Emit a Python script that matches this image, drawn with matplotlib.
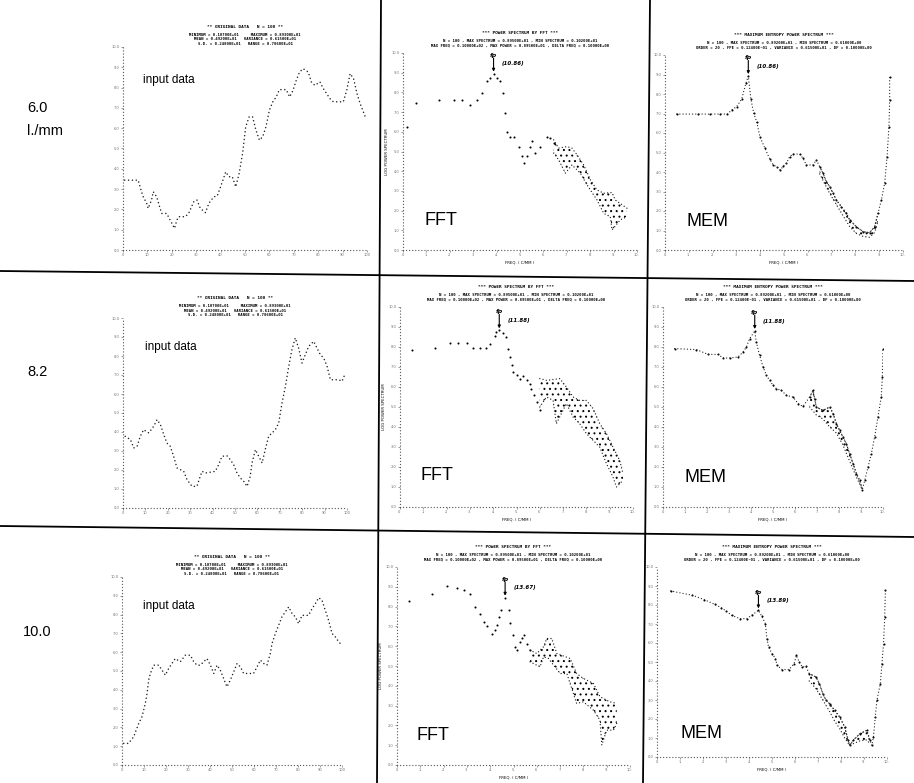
import matplotlib
matplotlib.use("Agg")
import matplotlib.pyplot as plt
from matplotlib.lines import Line2D

W, H = 914, 783

# ---------------- input data (sample no., amplitude) ----------------
in1_x = [0.7, 6.2, 7.6, 8.3, 9.7, 10.3, 11.7, 12.4, 13.8, 15.2, 15.9, 17.9, 19.3, 21.1, 22.1, 22.8,
         25.5, 26.9, 29.0, 30.3, 31.7, 33.8, 35.2, 37.2, 38.6, 40.0, 42.1, 43.4, 44.8, 46.2, 47.6,
         49.0, 50.3, 51.7, 53.1, 54.5, 55.9, 57.2, 58.6, 60.0, 61.4, 62.8, 64.1, 66.9, 68.3, 69.7,
         71.0, 72.4, 73.8, 75.9, 77.2, 78.6, 80.7, 82.1, 84.8, 86.2, 90.3, 91.7, 93.1, 94.5, 95.9,
         97.2, 99.3]
in1_y = [3.44, 3.44, 2.87, 2.62, 2.30, 2.05, 2.46, 2.87, 2.62, 2.05, 1.80, 1.80, 1.48, 1.07, 1.48, 1.64,
         1.64, 1.80, 2.38, 2.46, 2.05, 1.84, 2.30, 2.62, 2.66, 3.11, 3.85, 3.61, 3.61, 3.11, 3.77,
         4.75, 6.07, 6.56, 6.56, 5.90, 5.41, 5.57, 6.07, 6.89, 7.30, 7.54, 7.90, 7.90, 7.54, 7.87,
         8.36, 8.77, 8.93, 8.77, 8.28, 8.11, 8.28, 7.95, 7.46, 7.30, 7.30, 7.87, 8.69, 8.44, 7.70,
         7.21, 6.56]

in2_x = [1.0, 3.3, 4.8, 6.3, 7.7, 9.2, 11.5, 13.7, 15.2, 16.7, 18.2, 19.6, 21.1, 22.6, 24.1, 27.1,
         28.6, 30.8, 33.0, 34.5, 35.3, 36.8, 41.2, 42.7, 44.2, 46.4, 47.9, 49.4, 50.9, 52.4, 53.9,
         55.4, 56.8, 57.6, 59.1, 60.6, 62.1, 63.5, 65.0, 68.0, 69.5, 71.0, 72.5, 74.0, 75.4, 76.9,
         78.4, 79.9, 81.4, 82.9, 85.1, 86.6, 88.1, 89.6, 91.1, 92.6, 96.3, 97.8, 99.3]
in2_y = [3.77, 3.60, 3.16, 3.25, 3.77, 4.12, 3.95, 4.30, 4.65, 4.39, 3.86, 3.42, 3.25, 2.72, 2.11, 1.93,
         1.49, 1.14, 1.14, 1.67, 1.93, 1.84, 1.93, 2.28, 2.72, 2.75, 2.54, 2.28, 1.84, 1.58, 1.40,
         1.14, 1.67, 2.37, 3.07, 2.72, 2.37, 3.07, 3.77, 4.12, 4.47, 5.53, 6.40, 7.46, 8.33, 8.95,
         8.42, 7.63, 8.07, 8.51, 8.77, 8.42, 8.07, 7.89, 7.46, 6.75, 6.75, 6.67, 7.11]

in3_x = [0.8, 3.0, 5.3, 7.6, 9.1, 10.6, 11.4, 12.1, 12.9, 14.4, 16.7, 18.2, 19.7, 21.2, 22.7, 24.2,
         26.5, 28.8, 31.1, 32.6, 34.1, 35.6, 37.1, 38.6, 40.2, 41.7, 43.2, 44.7, 46.2, 47.7, 49.2,
         50.8, 52.3, 53.8, 55.3, 59.8, 61.4, 62.9, 64.4, 65.9, 67.4, 68.2, 69.7, 71.2, 72.7, 74.2,
         75.8, 77.3, 78.8, 80.3, 81.8, 84.8, 86.4, 87.9, 89.4, 90.9, 92.4, 93.9, 95.5, 97.0, 98.5,
         100.0]
in3_y = [1.15, 1.15, 1.50, 2.21, 2.57, 3.27, 3.81, 4.51, 4.87, 5.31, 5.31, 5.04, 4.78, 5.13, 5.40, 5.66,
         5.49, 5.84, 5.84, 5.49, 5.31, 5.31, 5.49, 5.66, 5.31, 4.87, 5.31, 5.04, 4.60, 4.16, 4.51,
         4.96, 5.40, 5.22, 4.87, 4.87, 5.22, 5.58, 5.40, 5.31, 5.93, 6.46, 6.99, 7.43, 7.88, 8.14,
         8.41, 8.05, 7.88, 7.52, 7.96, 7.96, 8.32, 8.58, 8.90, 8.76, 8.23, 7.70, 6.99, 6.81, 6.55,
         6.37]

# ---------------- FFT spectra (frequency, log power) ----------------
fft1_f = [0.17, 0.57, 1.52, 2.17, 2.52, 2.88, 3.16, 3.38, 3.59, 3.73, 3.87, 4.02, 4.13, 4.27, 4.37,
          4.44, 4.59, 4.73, 4.94, 5.09, 5.16, 5.30, 5.44, 5.51, 5.66, 5.87, 6.15, 6.30, 6.44]
fft1_p = [6.24, 7.46, 7.63, 7.63, 7.63, 7.37, 7.63, 7.97, 8.56, 8.73, 8.95, 8.73, 8.56, 7.97, 6.95,
          5.97, 5.76, 5.76, 5.25, 4.75, 4.41, 4.75, 5.25, 5.51, 4.92, 5.25, 5.76, 5.68, 5.42]
fft1_up_f = [6.44, 6.65, 7.01, 7.22, 7.44, 7.72, 8.01, 8.29, 8.58, 8.93, 9.07, 9.57]
fft1_up_p = [5.59, 5.17, 5.25, 5.17, 4.83, 4.32, 3.56, 3.05, 2.88, 2.92, 2.54, 2.12]
fft1_lo_f = [6.44, 6.65, 6.94, 7.22, 7.58, 7.86, 8.29, 8.58, 8.86, 8.93, 9.29, 9.57]
fft1_lo_p = [4.92, 4.58, 3.90, 4.32, 3.90, 3.31, 2.54, 1.86, 1.69, 1.02, 1.53, 1.69]

fft2_f = [0.50, 1.50, 2.14, 2.50, 2.86, 3.14, 3.43, 3.71, 3.86, 4.07, 4.14, 4.26, 4.43, 4.54, 4.64,
          4.71, 4.79, 4.86, 5.00, 5.14, 5.29, 5.43, 5.57, 5.64, 5.74, 5.86, 6.00]
fft2_p = [7.83, 7.97, 8.20, 8.20, 8.20, 7.97, 7.97, 7.97, 8.17, 8.53, 8.75, 8.83, 8.70, 8.50, 7.92,
          7.50, 7.08, 6.75, 6.58, 6.42, 6.53, 6.37, 6.17, 5.92, 5.58, 5.25, 4.83]
fft2_up_f = [6.00, 6.29, 6.86, 7.14, 7.43, 7.71, 8.00, 8.29, 8.57, 8.86, 9.14, 9.43, 9.57]
fft2_up_p = [6.42, 6.33, 6.42, 6.00, 5.50, 5.33, 5.33, 4.92, 4.17, 3.67, 3.00, 2.33, 1.67]
fft2_lo_f = [6.00, 6.29, 6.57, 6.71, 7.14, 7.43, 7.71, 8.00, 8.29, 8.57, 8.86, 9.14, 9.29, 9.43, 9.57]
fft2_lo_p = [5.00, 5.50, 5.33, 4.17, 5.17, 4.50, 4.17, 3.67, 3.33, 3.00, 2.17, 1.50, 1.00, 1.17, 1.33]

fft3_f = [0.50, 1.50, 2.14, 2.57, 2.86, 3.14, 3.36, 3.57, 3.74, 3.86, 4.07, 4.21, 4.29, 4.36, 4.46,
          4.64, 4.79, 4.86, 4.97, 5.07, 5.14, 5.29, 5.36, 5.46, 5.57, 5.71]
fft3_p = [8.29, 8.66, 9.03, 8.96, 8.82, 8.62, 7.98, 7.61, 7.23, 7.01, 6.64, 6.81, 7.06, 7.45, 7.82,
          8.45, 7.82, 7.18, 6.55, 5.97, 5.80, 6.22, 6.39, 6.55, 6.13, 5.80]
fft3_up_f = [5.71, 6.00, 6.29, 6.43, 6.64, 6.86, 7.43, 7.71, 8.00, 8.43, 8.71, 9.14, 9.43]
fft3_up_p = [5.80, 5.63, 5.97, 6.39, 6.39, 5.63, 5.38, 4.62, 4.37, 4.12, 3.45, 3.19, 3.11]
fft3_lo_f = [5.71, 6.14, 6.29, 6.50, 7.00, 7.29, 7.71, 8.00, 8.43, 8.71, 8.79, 9.00, 9.29, 9.43]
fft3_lo_p = [5.21, 4.96, 5.46, 5.38, 4.62, 4.62, 3.11, 3.19, 2.77, 2.27, 1.01, 1.76, 1.76, 2.10]

# ---------------- MEM spectra (frequency, log power) ----------------
mem1_f = [0.49, 1.40, 1.89, 2.31, 2.62, 2.80, 3.01, 3.22, 3.40, 3.50, 3.61, 3.73, 3.85, 3.99, 4.20,
          4.41, 4.55, 4.69, 4.85, 4.97, 5.10, 5.24, 5.38, 5.66, 5.80, 5.94, 6.22, 6.36, 6.50, 6.64,
          6.78, 6.92, 7.06, 7.20, 7.41, 7.62, 7.76, 8.04, 8.32, 8.60, 8.81, 8.95, 9.09, 9.23, 9.33,
          9.41, 9.44, 9.44]
mem1_p = [6.97, 6.97, 6.97, 6.97, 6.97, 7.18, 7.35, 7.73, 8.55, 8.92, 7.73, 7.01, 6.58, 5.81, 5.21,
          4.65, 4.36, 4.27, 4.10, 4.31, 4.44, 4.79, 4.92, 4.92, 4.70, 4.36, 4.36, 4.62, 4.27, 3.93,
          3.50, 3.25, 2.91, 2.56, 2.22, 1.88, 1.54, 1.20, 0.94, 0.89, 1.20, 1.88, 2.56, 3.42, 4.79,
          6.32, 7.69, 8.89]
mem1_lo_f = [6.50, 6.92, 7.41, 7.76, 8.04, 8.32, 8.60, 8.81, 8.95]
mem1_lo_p = [3.90, 2.90, 1.90, 1.20, 0.85, 0.70, 0.65, 0.90, 1.50]

mem2_f = [0.53, 1.52, 2.05, 2.50, 2.73, 3.03, 3.41, 3.64, 3.79, 3.94, 4.17, 4.24, 4.39, 4.55, 4.70,
          4.85, 5.00, 5.15, 5.38, 5.61, 5.91, 6.14, 6.36, 6.67, 6.82, 6.89, 6.97, 7.27, 7.58, 7.73,
          7.88, 8.03, 8.18, 8.33, 8.48, 8.64, 8.79, 8.94, 9.06, 9.17, 9.32, 9.47, 9.62, 9.77, 9.92,
          9.97, 10.0]
mem2_p = [7.92, 7.87, 7.63, 7.63, 7.45, 7.45, 7.50, 7.75, 8.00, 8.42, 8.80, 8.25, 7.58, 7.00, 6.58,
          6.33, 6.08, 5.92, 5.83, 5.58, 5.50, 5.17, 5.03, 5.50, 5.83, 5.42, 5.00, 4.83, 5.00, 4.67,
          4.17, 3.83, 3.50, 3.17, 2.67, 2.17, 1.67, 1.33, 0.87, 1.33, 2.00, 2.67, 3.50, 4.50, 5.50,
          6.50, 7.90]
mem2_lo_f = [6.67, 6.97, 7.27, 7.58, 7.88, 8.18, 8.48, 8.79, 9.06]
mem2_lo_p = [5.00, 4.60, 4.40, 4.00, 3.70, 3.10, 2.30, 1.50, 0.87]

mem3_f = [0.59, 1.54, 2.06, 2.50, 2.79, 3.01, 3.24, 3.60, 3.90, 4.12, 4.41, 4.56, 4.71, 4.78, 4.85,
          5.00, 5.15, 5.22, 5.44, 5.74, 5.96, 6.06, 6.18, 6.32, 6.47, 6.62, 6.91, 7.06, 7.21, 7.35,
          7.50, 7.72, 7.94, 8.16, 8.31, 8.38, 8.53, 8.82, 9.12, 9.26, 9.34, 9.41, 9.49, 9.56, 9.71,
          9.78, 9.85, 9.90, 9.93]
mem3_p = [8.74, 8.51, 8.28, 8.04, 7.86, 7.68, 7.46, 7.28, 7.28, 7.46, 7.72, 7.40, 7.02, 6.23, 5.79,
          5.44, 5.18, 4.82, 4.60, 4.60, 4.91, 5.35, 5.00, 4.74, 4.77, 4.39, 4.21, 3.86, 3.33, 2.98,
          2.81, 2.46, 2.11, 1.58, 0.88, 0.61, 0.88, 1.23, 1.40, 0.88, 0.61, 1.05, 2.11, 2.98, 3.86,
          4.91, 5.96, 7.37, 8.77]
mem3_lo_f = [6.62, 6.91, 7.21, 7.50, 7.72, 7.94, 8.16, 8.38, 8.53, 8.82, 9.12, 9.26]
mem3_lo_p = [4.00, 3.60, 3.00, 2.40, 1.90, 1.50, 1.00, 0.61, 0.70, 0.85, 0.90, 0.70]

row_labels = ["6.0", "8.2", "10.0"]
peak_labels = [["(10.86)", "(10.86)"], ["(11.88)", "(11.88)"], ["(13.67)", "(13.89)"]]

# panel boxes in pixels: left, top, right, bottom
boxes = [
    [(123, 47, 367, 250), (403, 53, 637, 250), (665, 55, 903, 250)],
    [(123, 318, 347, 508), (400, 307, 633, 507), (663, 307, 883, 507)],
    [(122, 577, 342, 765), (397, 567, 630, 765), (657, 567, 887, 757)],
]

DOTS = (0, (0.01, 2.4))
INK = "0.12"


def fx(x):
    return x / W


def fy(y):
    return 1 - y / H


def add_panel(fig, box, xmax, xstep):
    l, t, r, b = box
    ax = fig.add_axes([fx(l), fy(b), (r - l) / W, (b - t) / H])
    ax.set_xlim(0, xmax)
    ax.set_ylim(0, 10)
    ax.patch.set_alpha(0)
    for s in ("top", "right"):
        ax.spines[s].set_visible(False)
    for s in ("left", "bottom"):
        ax.spines[s].set_linestyle((0, (0.01, 2.2)))
        ax.spines[s].set_capstyle("round")
        ax.spines[s].set_linewidth(1.0)
        ax.spines[s].set_color("0.35")
    ax.set_xticks([i * xstep for i in range(int(xmax / xstep) + 1)])
    ax.set_yticks(range(0, 11))
    if xstep >= 10:
        ax.set_xticklabels([str(int(v)) for v in ax.get_xticks()])
    else:
        ax.set_xticklabels([f"{v:.0f}." for v in ax.get_xticks()])
    ax.set_yticklabels([f"{v:.1f}" for v in range(0, 11)])
    ax.tick_params(length=1.5, width=0.5, labelsize=2.6, pad=1, colors="0.45")
    return ax


def header(fig, box, lines):
    l, t, r, b = box
    cx = (l + r) / 2
    fig.text(fx(cx), fy(t - 20), lines[0], fontsize=3.2, fontweight="bold",
             family="DejaVu Sans Mono", ha="center", va="center")
    for i, ln in enumerate(lines[1:]):
        fig.text(fx(cx), fy(t - 12 + i * 4.5), ln, fontsize=2.8, fontweight="bold",
                 family="DejaVu Sans Mono", ha="center", va="center")


def dotted(ax, x, y, lw=1.15):
    ax.plot(x, y, color=INK, lw=lw, ls=DOTS, dash_capstyle="round")


def points(ax, x, y):
    ax.scatter(x, y, s=2.2, color="black", lw=0)


def band(ax, uf, up, lf, lp):
    ax.fill(list(uf) + lf[::-1], list(up) + lp[::-1], facecolor="none",
            edgecolor="black", hatch="...", lw=0)
    dotted(ax, uf, up, lw=1.0)
    dotted(ax, lf, lp, lw=1.0)


def mark_peak(ax, f, p, text):
    i = max((k for k in range(len(f)) if 3.3 < f[k] < 5.0), key=lambda k: p[k])
    x, y = f[i], p[i]
    ax.annotate("", xy=(x, y + 0.1), xytext=(x, y + 0.8),
                arrowprops=dict(arrowstyle="-|>", lw=0.8, color="black",
                                mutation_scale=4, shrinkA=0, shrinkB=0))
    ax.text(x, y + 0.8, "fp", fontsize=4.5, fontweight="bold", style="italic",
            ha="center", va="bottom")
    ax.text(x + 0.35, y + 0.5, text, fontsize=4, fontweight="bold", style="italic",
            va="center")


plt.rcParams["hatch.linewidth"] = 0.7
fig = plt.figure(figsize=(W / 100, H / 100), dpi=100)

inputs = [(in1_x, in1_y), (in2_x, in2_y), (in3_x, in3_y)]
ffts = [(fft1_f, fft1_p, fft1_up_f, fft1_up_p, fft1_lo_f, fft1_lo_p),
        (fft2_f, fft2_p, fft2_up_f, fft2_up_p, fft2_lo_f, fft2_lo_p),
        (fft3_f, fft3_p, fft3_up_f, fft3_up_p, fft3_lo_f, fft3_lo_p)]
mems = [(mem1_f, mem1_p, mem1_lo_f, mem1_lo_p),
        (mem2_f, mem2_p, mem2_lo_f, mem2_lo_p),
        (mem3_f, mem3_p, mem3_lo_f, mem3_lo_p)]

input_head = ["** ORIGINAL DATA   N = 100 **",
              "MINIMUM = 0.10700E+01     MAXIMUM = 0.89300E+01",
              "MEAN = 0.49200E+01   VARIANCE = 0.61500E+01",
              "S.D. = 0.24800E+01   RANGE = 0.78600E+01"]
fft_head = ["*** POWER SPECTRUM BY FFT ***",
            "N = 100 , MAX SPECTRUM = 0.89500E+01 , MIN SPECTRUM = 0.10200E+01",
            "MAX FREQ = 0.10000E+02 , MAX POWER = 0.89500E+01 , DELTA FREQ = 0.10000E+00"]
mem_head = ["*** MAXIMUM ENTROPY POWER SPECTRUM ***",
            "N = 100 , MAX SPECTRUM = 0.89200E+01 , MIN SPECTRUM = 0.61000E+00",
            "ORDER = 20 , FPE = 0.12400E-01 , VARIANCE = 0.61500E+01 , DF = 0.10000E+00"]

label_pos = [
    [(143, 80), (425, 220), (687, 222)],
    [(145, 347), (420, 475), (685, 478)],
    [(143, 606), (417, 735), (680, 733)],
]
row_y = [108, 372, 632]

for r in range(3):
    # input record
    ax = add_panel(fig, boxes[r][0], 100, 10)
    dotted(ax, *inputs[r])
    header(fig, boxes[r][0], input_head)

    # FFT spectrum: one printed dot per estimate
    f, p, uf, up, lf, lp = ffts[r]
    ax = add_panel(fig, boxes[r][1], 10, 1)
    points(ax, f, p)
    band(ax, uf, up, lf, lp)
    mark_peak(ax, f, p, peak_labels[r][0])
    header(fig, boxes[r][1], fft_head)
    ax.set_xlabel("FREQ. ( C/MM )", fontsize=2.8, labelpad=2)
    ax.set_ylabel("LOG POWER SPECTRUM", fontsize=2.8, labelpad=2)

    # MEM spectrum
    f, p, lf, lp = mems[r]
    ax = add_panel(fig, boxes[r][2], 10, 1)
    points(ax, f, p)
    dotted(ax, f, p, lw=0.95)
    i0, i1 = f.index(lf[0]), f.index(lf[-1]) + 1
    band(ax, f[i0:i1], p[i0:i1], lf, lp)
    mark_peak(ax, f, p, peak_labels[r][1])
    header(fig, boxes[r][2], mem_head)
    ax.set_xlabel("FREQ. ( C/MM )", fontsize=2.8, labelpad=2)

    (x0, y0), (x1, y1), (x2, y2) = label_pos[r]
    fig.text(fx(x0), fy(y0), "input data", fontsize=8.5, family="Liberation Sans",
             ha="left", va="center")
    fig.text(fx(x1), fy(y1), "FFT", fontsize=13, family="Liberation Sans",
             ha="left", va="center")
    fig.text(fx(x2), fy(y2), "MEM", fontsize=13, family="Liberation Sans",
             ha="left", va="center")
    fig.text(fx(37), fy(row_y[r]), row_labels[r], fontsize=10.5, family="Liberation Sans",
             ha="center", va="center")

fig.text(fx(45), fy(131), "l./mm", fontsize=10.5, family="Liberation Sans",
         ha="center", va="center")

# frame lines between the panels
for (xa, ya), (xb, yb) in [((0, 271), (914, 281)), ((0, 526), (914, 537)),
                           ((381, 0), (377, 783)), ((650, 0), (643, 783))]:
    fig.add_artist(Line2D([fx(xa), fx(xb)], [fy(ya), fy(yb)], color="black", lw=1.3))

fig.savefig("out.png", dpi=100)
